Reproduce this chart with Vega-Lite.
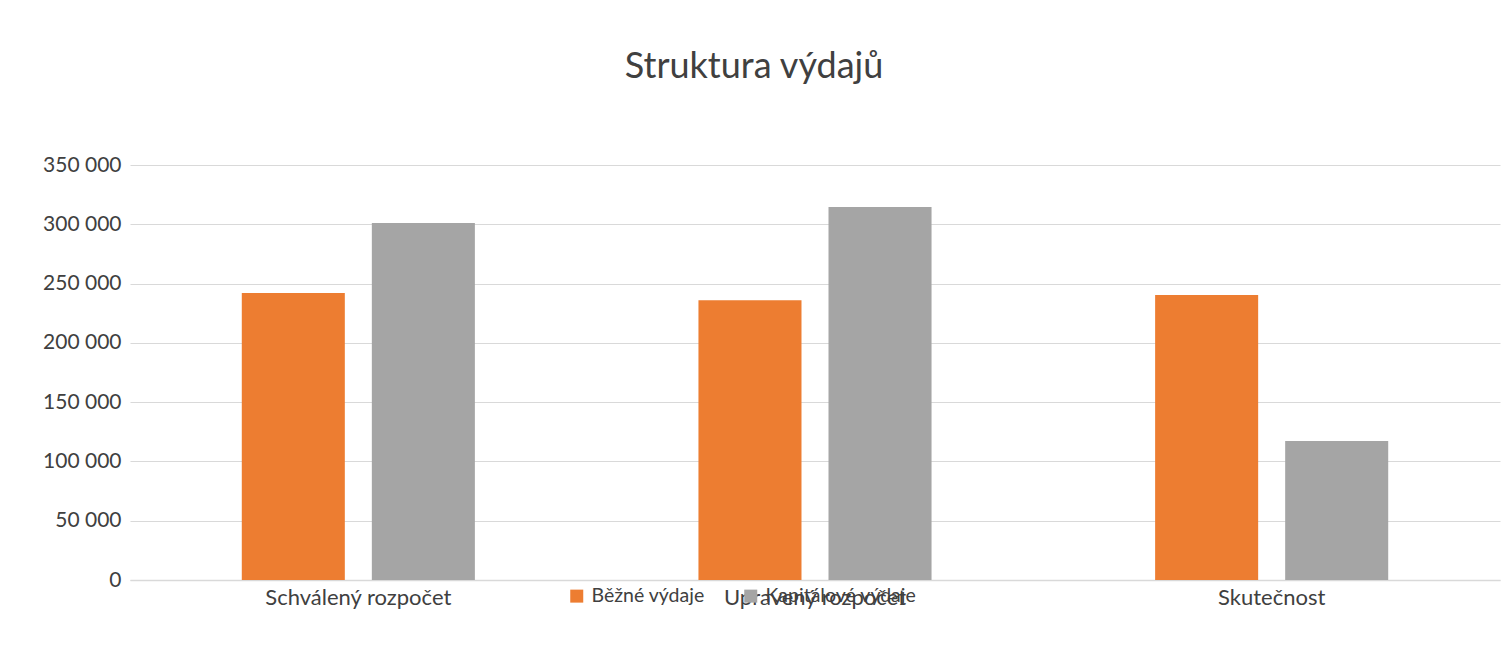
{
  "$schema": "https://vega.github.io/schema/vega-lite/v6.json",
  "autosize": {"type": "none"},
  "width": 1370,
  "height": 415,
  "padding": {"left": 130, "top": 165, "right": 9, "bottom": 79},
  "background": "white",
  "title": {
    "text": "Struktura výdajů",
    "font": "Lato",
    "fontSize": 36,
    "fontWeight": "normal",
    "color": "#404040",
    "offset": 68,
    "anchor": "middle",
    "frame": "group",
    "dx": -61
  },
  "config": {
    "view": {"stroke": null},
    "font": "Lato"
  },
  "data": {
    "values": [
      {"kategorie": "Schválený rozpočet", "typ": "Běžné výdaje", "hodnota": 242000},
      {"kategorie": "Schválený rozpočet", "typ": "Kapitálové výdaje", "hodnota": 301000},
      {"kategorie": "Upravený rozpočet", "typ": "Běžné výdaje", "hodnota": 236000},
      {"kategorie": "Upravený rozpočet", "typ": "Kapitálové výdaje", "hodnota": 314600},
      {"kategorie": "Skutečnost", "typ": "Běžné výdaje", "hodnota": 240400},
      {"kategorie": "Skutečnost", "typ": "Kapitálové výdaje", "hodnota": 117200}
    ]
  },
  "mark": {"type": "bar"},
  "encoding": {
    "x": {
      "field": "kategorie",
      "type": "nominal",
      "sort": ["Schválený rozpočet", "Upravený rozpočet", "Skutečnost"],
      "scale": {"paddingInner": 0, "paddingOuter": 0},
      "axis": {
        "title": null,
        "labelAngle": 0,
        "labelFontSize": 22,
        "labelLimit": 0,
        "labelColor": "#404040",
        "labelPadding": 7,
        "ticks": false,
        "domainColor": "#d9d9d9",
        "domainWidth": 1.5,
        "grid": false
      }
    },
    "xOffset": {
      "field": "typ",
      "type": "nominal",
      "scale": {"paddingInner": 0.2077, "paddingOuter": 0.8596}
    },
    "y": {
      "field": "hodnota",
      "type": "quantitative",
      "scale": {"domain": [0, 350000]},
      "axis": {
        "title": null,
        "values": [0, 50000, 100000, 150000, 200000, 250000, 300000, 350000],
        "labelExpr": "replace(format(datum.value, ',d'), ',', ' ')",
        "labelFontSize": 21,
        "labelColor": "#404040",
        "labelPadding": 9,
        "ticks": false,
        "domain": false,
        "gridColor": "#d9d9d9",
        "gridWidth": 1.2
      }
    },
    "color": {
      "field": "typ",
      "type": "nominal",
      "scale": {"domain": ["Běžné výdaje", "Kapitálové výdaje"], "range": ["#ED7D31", "#A5A5A5"]},
      "legend": {
        "title": null,
        "orient": "none",
        "legendX": 437,
        "legendY": 421,
        "direction": "horizontal",
        "symbolType": "square",
        "symbolSize": 169,
        "symbolStrokeWidth": 0,
        "labelFontSize": 19.5,
        "labelLimit": 400,
        "labelColor": "#404040",
        "labelOffset": 5,
        "columnPadding": 36
      }
    }
  }
}
